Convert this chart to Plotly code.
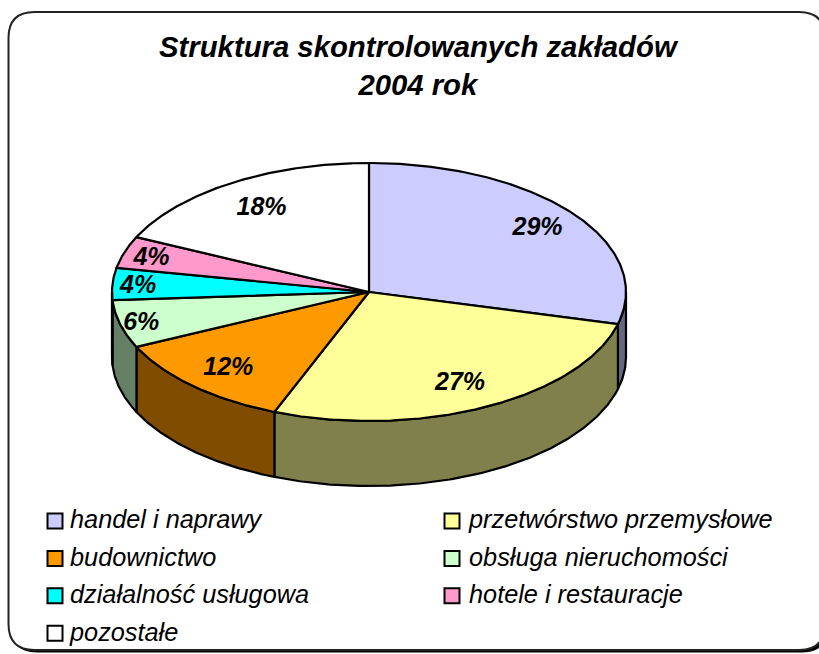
import numpy as np
import plotly.graph_objects as go

# --- data ---
categories = ["handel i naprawy", "przetwórstwo przemysłowe", "budownictwo",
              "obsługa nieruchomości", "działalność usługowa",
              "hotele i restauracje", "pozostałe"]
values = [29, 27, 12, 6, 4, 4, 18]
title_lines = ["Struktura skontrolowanych zakładów", "2004 rok"]

# --- style ---
top_colors = ["#CCCCFF", "#FFFF99", "#FF9900", "#CCFFCC", "#00FFFF", "#FF99CC", "#FFFFFF"]
side_colors = ["#666680", "#80804D", "#804D00", "#668066", "#008080", "#804D66", "#808080"]
label_radius = [0.83, 0.78, 0.80, 0.915, 0.90, 0.89, 0.78]
CX, CY, RX, RY, DEPTH = 369, 292, 257, 129, 65
W, H = 819, 654
FONT = "Liberation Sans"


def arc(a0, a1, dy=0.0):
    t = np.radians(np.linspace(a0, a1, max(2, int(abs(a1 - a0) * 2) + 2)))
    return CX + RX * np.sin(t), CY + dy - RY * np.cos(t)


def rounded(x0, y0, x1, y1, r):
    return (f"M{x0+r},{y0} L{x1-r},{y0} Q{x1},{y0} {x1},{y0+r} L{x1},{y1-r} Q{x1},{y1} {x1-r},{y1} "
            f"L{x0+r},{y1} Q{x0},{y1} {x0},{y1-r} L{x0},{y0+r} Q{x0},{y0} {x0+r},{y0} Z")


total = sum(values)
edges = np.cumsum([0] + values) / total * 360
fig = go.Figure()

# side walls of the visible (front) half
for i, name in enumerate(categories):
    a0, a1 = max(edges[i], 90), min(edges[i + 1], 270)
    if a1 <= a0:
        continue
    xt, yt = arc(a0, a1)
    xb, yb = arc(a1, a0, DEPTH)
    fig.add_trace(go.Scatter(x=np.r_[xt, xb, xt[0]], y=np.r_[yt, yb, yt[0]], mode="lines",
                             fill="toself", fillcolor=side_colors[i],
                             line=dict(color="black", width=2.2), hoverinfo="skip", showlegend=False))

# top faces
for i, name in enumerate(categories):
    xa, ya = arc(edges[i], edges[i + 1])
    fig.add_trace(go.Scatter(x=np.r_[CX, xa, CX], y=np.r_[CY, ya, CY], mode="lines",
                             fill="toself", fillcolor=top_colors[i],
                             line=dict(color="black", width=2.2), name=name, showlegend=False))

# percentage labels
mid = np.radians((edges[:-1] + edges[1:]) / 2)
fig.add_trace(go.Scatter(
    x=CX + RX * np.array(label_radius) * np.sin(mid),
    y=CY + 2 - RY * np.array(label_radius) * np.cos(mid),
    mode="text", text=[f"{v}%" for v in values], textposition="middle center",
    textfont=dict(family=FONT, size=25, color="black", weight="bold", style="italic"),
    hoverinfo="skip", showlegend=False))

# legend
for i, name in enumerate(categories):
    col, row = i % 2, i // 2
    x = 55 + col * 397
    y = 521 + row * 37.4
    fig.add_trace(go.Scatter(x=[x], y=[y], mode="markers",
                             marker=dict(symbol="square", size=15, color=top_colors[i],
                                         line=dict(color="black", width=2)),
                             hoverinfo="skip", showlegend=False))
    fig.add_trace(go.Scatter(x=[x + 15 + 2 * col], y=[y + 1], mode="text", text=[name], textposition="middle right",
                             textfont=dict(family=FONT, size=25.3, color="black", style="italic"),
                             hoverinfo="skip", showlegend=False))

fig.update_layout(
    width=W, height=H, margin=dict(l=0, r=0, t=0, b=0),
    paper_bgcolor="white", plot_bgcolor="white",
    xaxis=dict(range=[0, W], visible=False, fixedrange=True),
    yaxis=dict(range=[H, 0], visible=False, fixedrange=True),
    shapes=[
        dict(type="path", path=rounded(11, 15, 828, 652, 26), xref="x", yref="y", layer="below",
             fillcolor="black", line=dict(color="black", width=1)),
        dict(type="path", path=rounded(8.5, 12, 825, 650, 26), xref="x", yref="y", layer="below",
             fillcolor="white", line=dict(color="#222222", width=2)),
    ],
    annotations=[dict(text="<br>".join(title_lines), x=418.5, y=65, xref="x", yref="y",
                      showarrow=False, align="center", yanchor="middle",
                      font=dict(family=FONT, size=29.3, color="black", weight="bold", style="italic"))],
)
fig.write_html("out.html", config=dict(displayModeBar=False),
               post_script="document.body.style.margin='0';document.body.style.overflow='hidden';")
